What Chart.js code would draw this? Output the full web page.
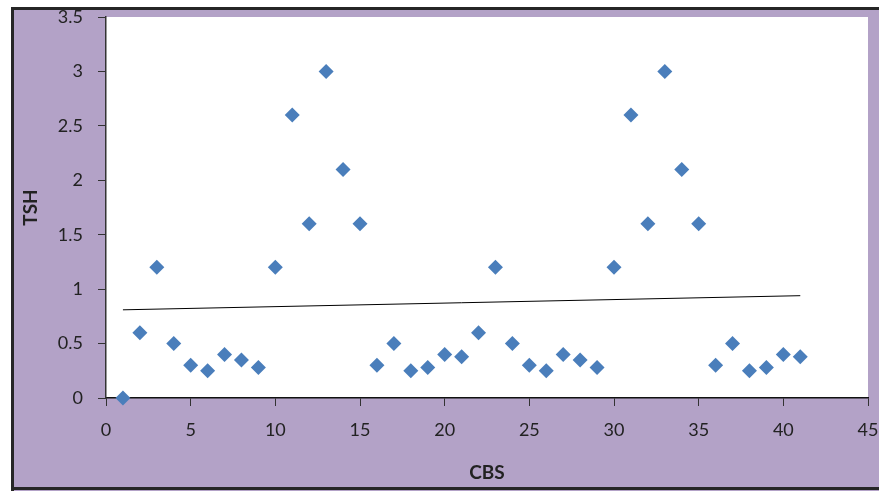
<!DOCTYPE html>
<html>
<head>
<meta charset="utf-8">
<script src="https://cdn.jsdelivr.net/npm/chart.js@4.4.0/dist/chart.umd.min.js"></script>
<style>
  html, body { margin: 0; padding: 0; background: #fff; }
  #wrap { width: 879px; height: 491px; }
</style>
</head>
<body>
<div id="wrap"><canvas id="tshChart" width="879" height="491"></canvas></div>
<script>
// --- Data ---
const cbsValues = [1, 2, 3, 4, 5, 6, 7, 8, 9, 10, 11, 12, 13, 14, 15, 16, 17, 18, 19, 20, 21,
                   22, 23, 24, 25, 26, 27, 28, 29, 30, 31, 32, 33, 34, 35, 36, 37, 38, 39, 40, 41];
const tshValues = [0, 0.6, 1.2, 0.5, 0.3, 0.25, 0.4, 0.35, 0.28, 1.2, 2.6, 1.6, 3.0, 2.1, 1.6, 0.3,
                   0.5, 0.25, 0.28, 0.4, 0.38, 0.6, 1.2, 0.5, 0.3, 0.25, 0.4, 0.35, 0.28, 1.2,
                   2.6, 1.6, 3.0, 2.1, 1.6, 0.3, 0.5, 0.25, 0.28, 0.4, 0.38];
// trend line end points
const trendX = [1, 41];
const trendY = [0.81, 0.94];

const xTitle = 'CBS';
const yTitle = 'TSH';

const FONT = 'Lato, "Open Sans", sans-serif';
const PURPLE = '#b3a2c7';

// background frame: purple panel with dark border, white plot area
const framePlugin = {
    id: 'frame',
    beforeDraw(chart) {
        const ctx = chart.ctx;
        const a = chart.chartArea;
        ctx.save();
        ctx.fillStyle = '#ffffff';
        ctx.fillRect(0, 0, chart.width, chart.height);
        ctx.fillStyle = PURPLE;
        ctx.fillRect(11, 7, chart.width - 11, chart.height - 7);
        ctx.fillStyle = '#262626';
        ctx.fillRect(11, 7, 3, chart.height - 7);
        ctx.fillRect(11, 7, chart.width - 11, 3);
        ctx.fillRect(11, 487, chart.width - 11, 3);
        ctx.fillStyle = '#ffffff';
        ctx.fillRect(a.left, a.top, a.right - a.left, a.bottom - a.top);
        ctx.restore();
    }
};

const points = cbsValues.map((x, i) => ({ x: x, y: tshValues[i] }));
const trend = trendX.map((x, i) => ({ x: x, y: trendY[i] }));

new Chart(document.getElementById('tshChart'), {
    type: 'scatter',
    data: {
        datasets: [
            {
                label: 'TSH',
                data: points,
                pointStyle: 'rectRot',
                pointRadius: 7.5,
                pointHoverRadius: 7.5,
                backgroundColor: '#4a7ebb',
                borderColor: '#4a7ebb',
                borderWidth: 0,
                clip: false
            },
            {
                type: 'line',
                label: 'Trend',
                data: trend,
                borderColor: '#000000',
                borderWidth: 1,
                pointRadius: 0,
                fill: false
            }
        ]
    },
    options: {
        responsive: false,
        animation: false,
        devicePixelRatio: 1,
        layout: { padding: { top: 17, right: 11, left: 0, bottom: 0 } },
        plugins: { legend: { display: false }, tooltip: { enabled: false } },
        scales: {
            x: {
                type: 'linear',
                min: 0, max: 45,
                ticks: { stepSize: 5, color: '#222222', padding: 13, font: { family: FONT, size: 18 } },
                grid: { drawOnChartArea: false, drawTicks: true, tickLength: 8, color: '#333333' },
                border: { display: true, color: '#111111', width: 1.5 },
                title: { display: true, text: xTitle, color: '#222222', padding: { top: 0, bottom: 7 },
                         font: { family: FONT, size: 19, weight: 'bold' } },
                afterFit(scale) {
                    scale.height = 93;
                    scale.paddingLeft = 0;
                    scale.paddingRight = 0;
                }
            },
            y: {
                type: 'linear',
                min: 0, max: 3.5,
                ticks: {
                    stepSize: 0.5, color: '#222222', padding: 15, font: { family: FONT, size: 18 },
                    callback: v => String(Math.round(v * 10) / 10)
                },
                grid: { drawOnChartArea: false, drawTicks: true, tickLength: 8, color: '#333333' },
                border: { display: true, color: '#333333', width: 1.5 },
                title: { display: true, text: yTitle, color: '#222222', padding: { top: 19, bottom: 0 },
                         font: { family: FONT, size: 19, weight: 'bold' } },
                afterFit(scale) {
                    scale.width = 106;
                    scale.paddingTop = 0;
                    scale.paddingBottom = 0;
                }
            }
        }
    },
    plugins: [framePlugin]
});
</script>
</body>
</html>
